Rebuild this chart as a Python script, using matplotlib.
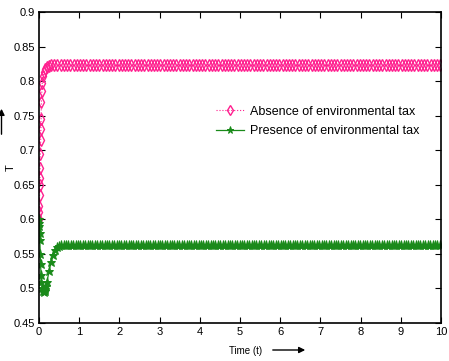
import matplotlib
matplotlib.use("Agg")
import matplotlib.pyplot as plt
import numpy as np

plt.rcParams['font.family'] = ['Liberation Sans', 'DejaVu Sans']

# Absence of environmental tax (transient part then steady)
t_abs_early = [0.0, 0.005, 0.01, 0.015, 0.02, 0.025, 0.03, 0.035, 0.04, 0.045,
               0.05, 0.06, 0.07, 0.08, 0.10, 0.12, 0.15, 0.20, 0.25]
v_abs_early = [0.600, 0.610, 0.620, 0.635, 0.650, 0.660, 0.675, 0.695, 0.715, 0.730,
               0.745, 0.770, 0.785, 0.797, 0.807, 0.813, 0.817, 0.820, 0.822]
abs_steady = 0.823

# Presence of environmental tax
t_pre_early = [0.0, 0.005, 0.01, 0.015, 0.02, 0.03, 0.04, 0.05, 0.06, 0.08,
               0.10, 0.12, 0.14, 0.16, 0.18, 0.20, 0.25, 0.30, 0.35, 0.40, 0.45, 0.50]
v_pre_early = [0.600, 0.595, 0.590, 0.580, 0.570, 0.550, 0.535, 0.520, 0.510, 0.500,
               0.496, 0.495, 0.496, 0.499, 0.504, 0.510, 0.525, 0.538, 0.549, 0.556, 0.560, 0.562]
pre_steady = 0.563

t_steady_step = 0.08
t_end = 10.0

yticks = [0.45, 0.5, 0.55, 0.6, 0.65, 0.7, 0.75, 0.8, 0.85, 0.9]
ytick_labels = ['0.45', '0.5', '0.55', '0.6', '0.65', '0.7', '0.75', '0.8', '0.85', '0.9']
xticks = list(range(0, 11))

t_abs_late = np.arange(0.30, t_end + 1e-9, t_steady_step)
t_abs = np.concatenate([t_abs_early, t_abs_late])
v_abs = np.concatenate([v_abs_early, np.full(len(t_abs_late), abs_steady)])

t_pre_late = np.arange(0.55, t_end + 1e-9, t_steady_step * 0.75)
t_pre = np.concatenate([t_pre_early, t_pre_late])
v_pre = np.concatenate([v_pre_early, np.full(len(t_pre_late), pre_steady)])

fig = plt.figure(figsize=(4.49, 3.61), dpi=100)
ax = fig.add_axes([39/449, 38/361, 402/449, 311/361])

pink = '#ff1f8f'
green = '#1a8a1a'
ax.plot(t_abs, v_abs, linestyle=':', color=pink, linewidth=0.8, marker='d',
        markersize=5.8, markerfacecolor='none', markeredgecolor=pink, markeredgewidth=1.0,
        label='Absence of environmental tax')
ax.plot(t_pre, v_pre, linestyle='-', color=green, linewidth=0.9, marker='*',
        markersize=6.5, markerfacecolor=green, markeredgecolor=green, markeredgewidth=0.7,
        label='Presence of environmental tax')

ax.set_xlim(0, 10)
ax.set_ylim(0.45, 0.9)
ax.set_xticks(xticks)
ax.set_xticklabels([str(x) for x in xticks])
ax.set_yticks(yticks)
ax.set_yticklabels(ytick_labels)
ax.tick_params(direction='in', top=True, right=True, length=4, width=0.8,
               labelsize=8, pad=3)
for s in ax.spines.values():
    s.set_linewidth(1.2)

leg = ax.legend(loc='upper left', bbox_to_anchor=(0.428, 0.715), frameon=False,
                fontsize=9, handlelength=2.2, handletextpad=0.5, labelspacing=0.6,
                borderaxespad=0, markerscale=0.8)

fig.text(246/449, 1 - 351/361, 'Time (t)', fontsize=7, ha='center', va='center')
fig.text(11/449, 1 - 168/361, 'T', fontsize=8, ha='center', va='center', rotation=90)
fig.add_artist(matplotlib.patches.FancyArrowPatch((270/449, 1 - 350/361), (308/449, 1 - 350/361),
               transform=fig.transFigure, arrowstyle='-|>', mutation_scale=9,
               color='black', linewidth=1))
fig.add_artist(matplotlib.patches.FancyArrowPatch((1.5/449, (361-137)/361), (1.5/449, (361-106)/361),
               transform=fig.transFigure, arrowstyle='-|>', mutation_scale=9,
               color='black', linewidth=1))

fig.savefig('out.png', dpi=100)
